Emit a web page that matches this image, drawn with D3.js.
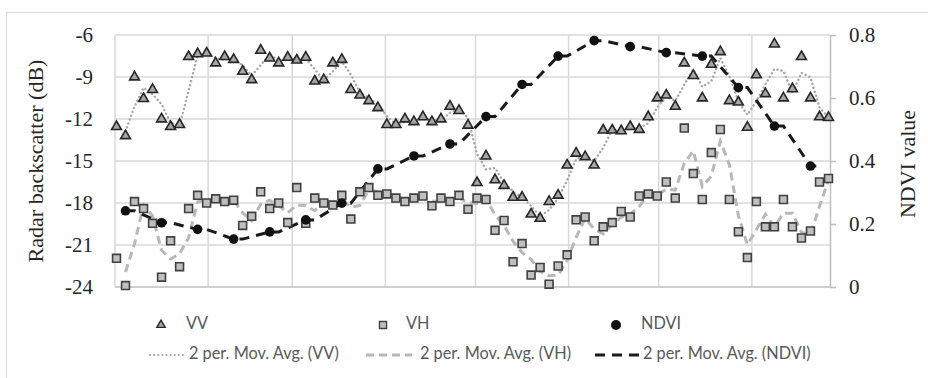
<!DOCTYPE html>
<html>
<head>
<meta charset="utf-8">
<script src="https://cdn.jsdelivr.net/npm/d3@7"></script>
<style>
  body { margin: 0; background: #fff; }
</style>
</head>
<body>
<div id="chart"></div>
<script>
"use strict"

/* Acquisition dates: one radar image every 3 days, Jan 1 to Aug 26 */
let dates = d3.timeDay.range(new Date(2018, 0, 1), new Date(2018, 7, 27), 3);

/* VV backscatter (dB) */
let vv = [-12.55, -13.2, -9.0, -10.55, -9.9, -12.0, -12.55, -12.4, -7.55, -7.35,
    -7.3, -8.0, -7.55, -7.75, -8.6, -9.2, -7.1, -7.65, -8.0, -7.6,
    -7.8, -7.6, -9.3, -9.2, -8.0, -7.75, -9.9, -10.3, -10.7, -11.2,
    -12.4, -12.4, -12.0, -12.2, -11.85, -12.2, -12.0, -11.1, -11.4, -12.45,
    -16.55, -14.65, -16.35, -16.75, -17.6, -17.6, -18.8, -19.1, -17.9, -17.45,
    -15.3, -14.45, -14.7, -15.3, -12.8, -12.8, -12.85, -12.55, -12.75, -11.85,
    -10.5, -10.3, -11.1, -8.0, -8.9, -10.5, -8.1, -7.2, -10.7, -10.8,
    -12.6, -8.85, -10.2, -6.65, -10.5, -9.85, -7.55, -10.5, -11.85, -11.9];

/* VH backscatter (dB) */
let vh = [-21.95, -23.9, -17.9, -18.4, -19.45, -23.3, -20.7, -22.55, -18.4, -17.45,
    -18.0, -17.7, -17.9, -17.8, -19.6, -18.95, -17.2, -18.4, -18.0, -19.4,
    -16.9, -19.45, -17.65, -18.0, -18.15, -17.45, -19.15, -17.2, -16.9, -17.45,
    -17.35, -17.65, -17.9, -17.65, -17.5, -18.2, -17.65, -17.9, -17.45, -18.45,
    -17.65, -17.75, -19.95, -19.25, -22.2, -20.9, -23.15, -22.6, -23.8, -22.5,
    -21.7, -19.2, -19.0, -20.7, -19.7, -19.4, -18.6, -19.0, -17.5, -17.35,
    -17.5, -16.5, -17.65, -12.65, -15.9, -17.75, -14.4, -12.75, -17.75, -20.05,
    -21.9, -17.9, -19.7, -19.7, -17.75, -19.7, -20.5, -20.0, -16.5, -16.25];

/* NDVI: only on every 4th acquisition date (index into dates) */
let ndviIndex = [1, 5, 9, 13, 17, 21, 25, 29, 33, 37, 41, 45, 49, 53, 57, 61, 65, 69, 73, 77];
let ndvi = [0.242, 0.204, 0.183, 0.152, 0.175, 0.213, 0.266, 0.375, 0.416, 0.454,
    0.541, 0.643, 0.733, 0.782, 0.763, 0.744, 0.733, 0.633, 0.511, 0.384];

let leftTicks = [-24, -21, -18, -15, -12, -9, -6];
let rightTicks = [0, 0.2, 0.4, 0.6, 0.8];

/* Drawing setup */
let svgWidth = 928;
let svgHeight = 378;
let plot = { left: 115, right: 830, top: 35, bottom: 287 };
let serif = "'Liberation Serif', 'Times New Roman', serif";
let sans = "Lato, 'Open Sans', sans-serif";

let svg = d3.select("#chart")
    .append("svg")
    .attr("width", svgWidth)
    .attr("height", svgHeight);

/* chart border */
svg.append("rect")
    .attr("x", 6.5)
    .attr("y", 12.5)
    .attr("width", 950)
    .attr("height", 420)
    .attr("fill", "none")
    .attr("stroke", "#d9d9d9");

let xScale = d3.scaleTime()
    .domain([new Date(2018, 0, 1), new Date(2018, 7, 27)])
    .range([plot.left, plot.right]);

let yLeft = d3.scaleLinear()
    .domain([-24, -6])
    .range([plot.bottom, plot.top]);

let yRight = d3.scaleLinear()
    .domain([0, 0.8])
    .range([plot.bottom, plot.top]);

/* points sit in the middle of their day */
let xPos = function (i) {
    return xScale(d3.timeHour.offset(dates[i], 12));
};

/* gridlines */
let grid = svg.append("g").attr("stroke", "#d9d9d9").attr("stroke-width", 1.5);

grid.selectAll(".hgrid")
    .data(leftTicks.slice(1))
    .join("line")
    .attr("x1", plot.left)
    .attr("x2", plot.right)
    .attr("y1", d => yLeft(d))
    .attr("y2", d => yLeft(d));

grid.selectAll(".vgrid")
    .data(xScale.ticks(d3.timeMonth.every(1)))
    .join("line")
    .attr("x1", d => xScale(d))
    .attr("x2", d => xScale(d))
    .attr("y1", plot.top)
    .attr("y2", plot.bottom);

/* bottom axis line */
svg.append("line")
    .attr("x1", plot.left)
    .attr("x2", plot.right)
    .attr("y1", plot.bottom)
    .attr("y2", plot.bottom)
    .attr("stroke", "#bfbfbf")
    .attr("stroke-width", 1.5);

/* left axis: labels only */
let leftAxis = svg.append("g")
    .attr("transform", `translate(${plot.left},0)`)
    .call(d3.axisLeft(yLeft)
        .tickValues(leftTicks)
        .tickFormat(d => String(d))
        .tickSize(0)
        .tickPadding(22));
leftAxis.select(".domain").remove();
leftAxis.selectAll("text")
    .attr("font-family", serif)
    .attr("font-size", 21)
    .attr("fill", "#262626");

/* right axis */
let rightAxis = svg.append("g")
    .attr("transform", `translate(${plot.right},0)`)
    .call(d3.axisRight(yRight)
        .tickValues(rightTicks)
        .tickFormat(d => d === 0 ? "0" : d.toFixed(1))
        .tickSize(6)
        .tickSizeOuter(0)
        .tickPadding(13));
rightAxis.select(".domain").attr("stroke", "#bfbfbf").attr("stroke-width", 1.5);
rightAxis.selectAll("line").attr("stroke", "#bfbfbf").attr("stroke-width", 1.5);
rightAxis.selectAll("text")
    .attr("font-family", serif)
    .attr("font-size", 21)
    .attr("fill", "#262626");

/* axis titles */
svg.append("text")
    .attr("transform", `translate(38,${(plot.top + plot.bottom) / 2}) rotate(-90)`)
    .attr("text-anchor", "middle")
    .attr("dominant-baseline", "middle")
    .attr("font-family", serif)
    .attr("font-size", 22)
    .attr("fill", "#262626")
    .text("Radar backscatter (dB)");

svg.append("text")
    .attr("transform", `translate(910,${(plot.top + plot.bottom) / 2 + 3}) rotate(-90)`)
    .attr("text-anchor", "middle")
    .attr("dominant-baseline", "middle")
    .attr("font-family", serif)
    .attr("font-size", 22)
    .attr("fill", "#262626")
    .text("NDVI value");

/* 2-period moving average, like the spreadsheet trendline:
   average of the non-empty values in each window of two dates */
function movingAverage(values) {
    let out = [];
    for (let i = 1; i < values.length; i++) {
        let win = [values[i - 1], values[i]].filter(v => v !== null);
        if (win.length > 0) out.push({ i: i, v: d3.mean(win) });
    }
    return out;
}

let ndviSlots = dates.map(() => null);
ndviIndex.forEach((idx, k) => { ndviSlots[idx] = ndvi[k]; });

let lineLeft = d3.line().x(d => xPos(d.i)).y(d => yLeft(d.v));
let lineRight = d3.line().x(d => xPos(d.i)).y(d => yRight(d.v));

svg.append("path")
    .attr("d", lineLeft(movingAverage(vv)))
    .attr("fill", "none")
    .attr("stroke", "#a6a6a6")
    .attr("stroke-width", 2.4)
    .attr("stroke-linecap", "round")
    .attr("stroke-dasharray", "0.1 4");

svg.append("path")
    .attr("d", lineLeft(movingAverage(vh)))
    .attr("fill", "none")
    .attr("stroke", "#b8b8b8")
    .attr("stroke-width", 3)
    .attr("stroke-dasharray", "8 5");

svg.append("path")
    .attr("d", lineRight(movingAverage(ndviSlots)))
    .attr("fill", "none")
    .attr("stroke", "#1a1a1a")
    .attr("stroke-width", 3)
    .attr("stroke-dasharray", "10 7");

/* markers */
let triangle = d3.symbol().type(d3.symbolTriangle).size(42);
let square = d3.symbol().type(d3.symbolSquare).size(62);

svg.append("g").selectAll("path")
    .data(vv)
    .join("path")
    .attr("d", triangle)
    .attr("transform", (d, i) => `translate(${xPos(i)},${yLeft(d)})`)
    .attr("fill", "#a6a6a6")
    .attr("stroke", "#262626")
    .attr("stroke-width", 1.6);

svg.append("g").selectAll("path")
    .data(vh)
    .join("path")
    .attr("d", square)
    .attr("transform", (d, i) => `translate(${xPos(i)},${yLeft(d)})`)
    .attr("fill", "#bfbfbf")
    .attr("stroke", "#404040")
    .attr("stroke-width", 1.6);

svg.append("g").selectAll("circle")
    .data(ndvi)
    .join("circle")
    .attr("cx", (d, k) => xPos(ndviIndex[k]))
    .attr("cy", d => yRight(d))
    .attr("r", 4.8)
    .attr("fill", "#111");

/* legend */
let legend = svg.append("g")
    .attr("font-family", sans)
    .attr("font-size", 16.3)
    .attr("fill", "#595959");

let row1 = 325;
let row2 = 355;

legend.append("path")
    .attr("d", d3.symbol().type(d3.symbolTriangle).size(30))
    .attr("transform", `translate(161,${row1})`)
    .attr("fill", "#a6a6a6")
    .attr("stroke", "#262626")
    .attr("stroke-width", 1.4);
legend.append("path")
    .attr("d", d3.symbol().type(d3.symbolSquare).size(50))
    .attr("transform", `translate(383,${row1})`)
    .attr("fill", "#bfbfbf")
    .attr("stroke", "#404040")
    .attr("stroke-width", 1.4);
legend.append("circle")
    .attr("cx", 616)
    .attr("cy", row1)
    .attr("r", 5)
    .attr("fill", "#111");

let labels1 = [["VV", 186], ["VH", 406], ["NDVI", 641]];
labels1.forEach(l => {
    legend.append("text")
        .attr("x", l[1])
        .attr("y", row1)
        .attr("dominant-baseline", "middle")
        .text(l[0]);
});

legend.append("line")
    .attr("x1", 150).attr("x2", 185).attr("y1", row2).attr("y2", row2)
    .attr("stroke", "#a6a6a6").attr("stroke-width", 2.2)
    .attr("stroke-linecap", "round").attr("stroke-dasharray", "0.1 4");
legend.append("line")
    .attr("x1", 366).attr("x2", 412).attr("y1", row2).attr("y2", row2)
    .attr("stroke", "#b8b8b8").attr("stroke-width", 3)
    .attr("stroke-dasharray", "8 5");
legend.append("line")
    .attr("x1", 595).attr("x2", 642).attr("y1", row2).attr("y2", row2)
    .attr("stroke", "#1a1a1a").attr("stroke-width", 3)
    .attr("stroke-dasharray", "10 7");

let labels2 = [["2 per. Mov. Avg. (VV)", 189], ["2 per. Mov. Avg. (VH)", 420], ["2 per. Mov. Avg. (NDVI)", 643]];
labels2.forEach(l => {
    legend.append("text")
        .attr("x", l[1])
        .attr("y", row2)
        .attr("dominant-baseline", "middle")
        .text(l[0]);
});
</script>
</body>
</html>
